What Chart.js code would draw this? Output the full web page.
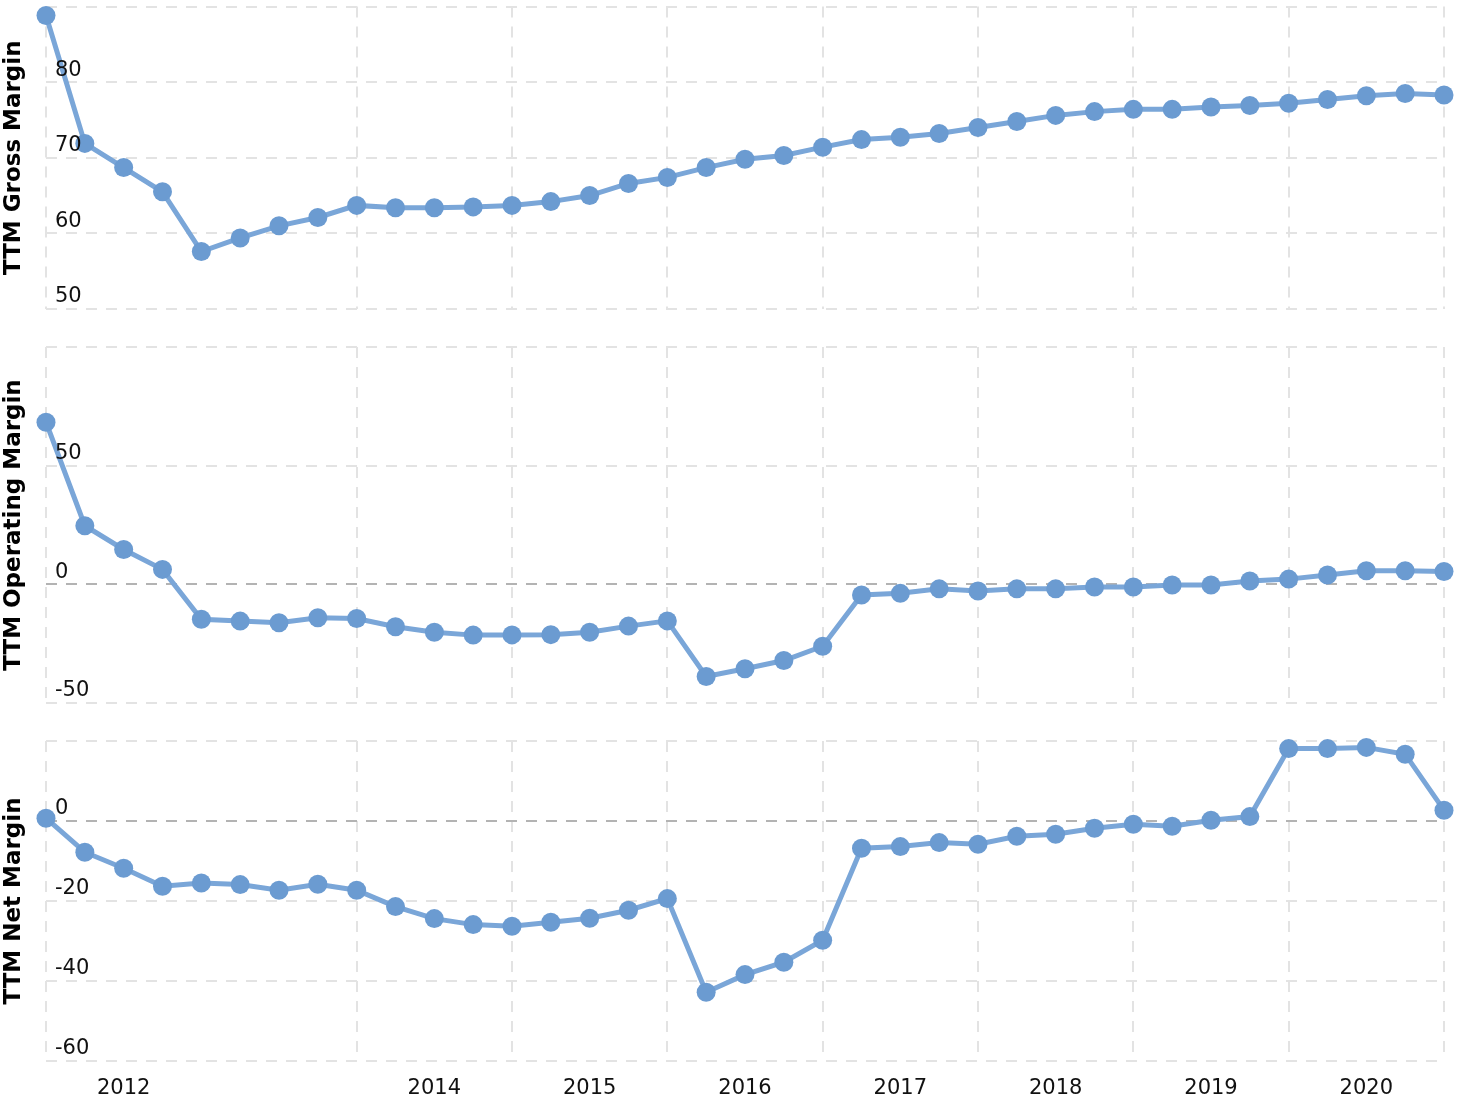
<!DOCTYPE html>
<html>
<head>
<meta charset="utf-8">
<script src="https://cdn.jsdelivr.net/npm/chart.js@4.4.1/dist/chart.umd.min.js"></script>
<style>
  body { margin: 0; background: #fff; overflow: hidden; }
  .panel { position: absolute; left: 0; width: 1464px; }
</style>
</head>
<body>
<div class="panel" style="top:-3px;height:323px"><canvas id="gross"></canvas></div>
<div class="panel" style="top:330px;height:390px"><canvas id="operating"></canvas></div>
<div class="panel" style="top:720px;height:384px"><canvas id="net"></canvas></div>
<script>
const quarters = ['2011-12-31', '2012-03-31', '2012-06-30', '2012-09-30', '2012-12-31', '2013-03-31', '2013-06-30', '2013-09-30',
  '2013-12-31', '2014-03-31', '2014-06-30', '2014-09-30', '2014-12-31', '2015-03-31', '2015-06-30', '2015-09-30',
  '2015-12-31', '2016-03-31', '2016-06-30', '2016-09-30', '2016-12-31', '2017-03-31', '2017-06-30', '2017-09-30',
  '2017-12-31', '2018-03-31', '2018-06-30', '2018-09-30', '2018-12-31', '2019-03-31', '2019-06-30', '2019-09-30',
  '2019-12-31', '2020-03-31', '2020-06-30', '2020-09-30', '2020-12-31'];

const grossMargin = [88.8, 71.9, 68.7, 65.5, 57.6, 59.4, 61.0, 62.1, 63.7, 63.4, 63.4, 63.5,
  63.7, 64.2, 65.0, 66.6, 67.4, 68.7, 69.8, 70.3, 71.4, 72.4, 72.7, 73.2,
  74.0, 74.8, 75.6, 76.1, 76.4, 76.4, 76.7, 76.9, 77.2, 77.7, 78.2, 78.5, 78.3];

const operatingMargin = [68.3, 24.7, 14.7, 6.3, -14.7, -15.5, -16.2, -14.1, -14.4, -17.9, -20.2, -21.4,
  -21.3, -21.2, -20.2, -17.6, -15.4, -38.8, -35.6, -32.1, -26.1, -4.5, -3.8, -1.9,
  -2.8, -1.9, -1.9, -1.1, -1.1, -0.3, -0.3, 1.4, 2.2, 3.9, 5.7, 5.7, 5.4];

const netMargin = [0.7, -7.8, -11.8, -16.3, -15.5, -15.9, -17.3, -15.8, -17.3, -21.4, -24.4, -25.9,
  -26.3, -25.3, -24.3, -22.3, -19.4, -42.8, -38.4, -35.3, -29.8, -6.8, -6.4, -5.4,
  -5.8, -3.8, -3.3, -1.8, -0.8, -1.3, 0.2, 1.1, 18.1, 18.1, 18.4, 16.7, 2.7];

// x axis: year labels sit mid-year, grid lines at year boundaries
const yearLabelIndex = [2, 10, 14, 18, 22, 26, 30, 34];
const yearLabels = ['2012', '2014', '2015', '2016', '2017', '2018', '2019', '2020'];
const yearGridIndex = [0, 8, 12, 16, 20, 24, 28, 32, 36];

const FONT = "'DejaVu Sans', Verdana, sans-serif";
const lineColor = '#7aa6d8';
const pointColor = '#6b9bd1';
const gridColor = '#e3e3e3';
const zeroColor = '#b3b3b3';

function makeChart(id, title, values, yMin, yMax, step, padding, showYears) {
  return new Chart(document.getElementById(id), {
    type: 'line',
    data: {
      labels: quarters,
      datasets: [{
        data: values,
        borderColor: lineColor,
        borderWidth: 5,
        backgroundColor: pointColor,
        pointBackgroundColor: pointColor,
        pointBorderWidth: 0,
        pointRadius: 9.5,
        tension: 0,
        clip: false
      }]
    },
    options: {
      responsive: true,
      maintainAspectRatio: false,
      animation: false,
      layout: { padding: padding },
      plugins: { legend: { display: false }, tooltip: { enabled: false } },
      scales: {
        x: {
          afterFit: (axis) => {
            axis.paddingLeft = 0; axis.paddingRight = 0;
            axis.paddingTop = 0; axis.paddingBottom = 0;
            axis.height = showYears ? 39 : 0;
          },
          grid: {
            drawTicks: false,
            lineWidth: 2,
            color: (c) => yearGridIndex.includes(c.index) ? gridColor : 'rgba(0,0,0,0)'
          },
          border: { display: false, dash: [11, 9] },
          ticks: {
            display: showYears,
            autoSkip: false,
            maxRotation: 0,
            padding: 15,
            color: '#111',
            font: { family: FONT, size: 21 },
            callback: (v, i) => {
              const k = yearLabelIndex.indexOf(i);
              return k >= 0 ? yearLabels[k] : '';
            }
          }
        },
        y: {
          min: yMin,
          max: yMax,
          afterFit: (axis) => {
            axis.width = 46;
            axis.paddingTop = 0; axis.paddingBottom = 0;
            axis.paddingLeft = 0; axis.paddingRight = 0;
          },
          grid: {
            drawTicks: false,
            lineWidth: 2,
            color: (c) => c.tick && c.tick.value === 0 ? zeroColor : gridColor
          },
          border: { display: false, dash: [11, 9] },
          ticks: {
            stepSize: step,
            mirror: true,
            padding: 9,
            labelOffset: -12,
            z: 1,
            color: '#111',
            font: { family: FONT, size: 21 },
            callback: (v) => v === yMax ? '' : v
          },
          title: {
            display: true,
            text: title,
            color: '#000',
            padding: { top: 0, bottom: 4 },
            font: { family: FONT, size: 23, weight: 'bold' }
          }
        }
      }
    }
  });
}

makeChart('gross', 'TTM Gross Margin', grossMargin, 50, 90, 10, { top: 4, bottom: 11, right: 20 }, false);
makeChart('operating', 'TTM Operating Margin', operatingMargin, -50, 100, 50, { top: 17, bottom: 17, right: 20 }, false);
makeChart('net', 'TTM Net Margin', netMargin, -60, 20, 20, { top: 21, bottom: 4, right: 20 }, true);
</script>
</body>
</html>
